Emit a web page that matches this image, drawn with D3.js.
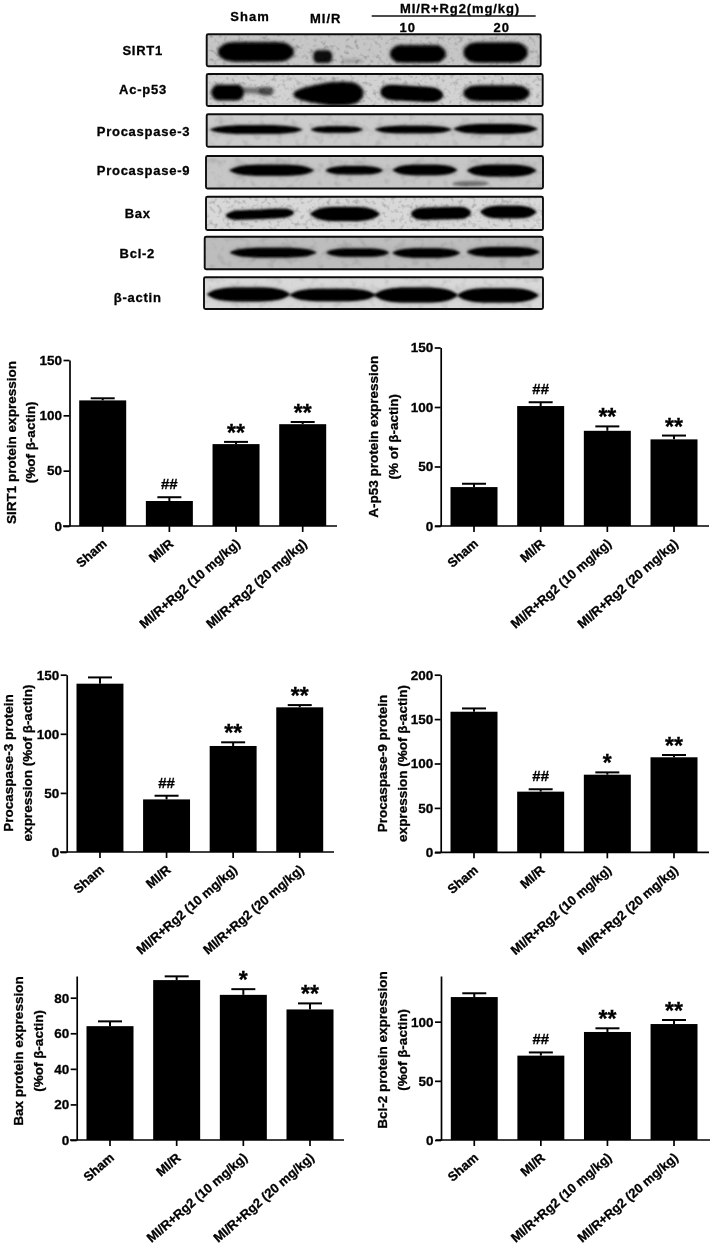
<!DOCTYPE html>
<html>
<head>
<meta charset="utf-8">
<script src="https://cdn.jsdelivr.net/npm/d3@7/dist/d3.min.js"></script>
<style>
  html, body { margin: 0; padding: 0; background: #fff; }
  text { font-family: "Liberation Sans", Arial, sans-serif; font-weight: bold; fill: #050505; stroke: #050505; stroke-width: 0.3px; }
</style>
</head>
<body>
<svg id="chart" width="711" height="1254"></svg>
<script>
// values
var categories = ["Sham", "MI/R", "MI/R+Rg2 (10 mg/kg)", "MI/R+Rg2 (20 mg/kg)"];

var sirt1Values = [113.5, 22.6, 74, 92];
var sirt1Errors = [1.9, 3.4, 2, 2];
var sirt1Marks = ["", "##", "**", "**"];

var acp53Values = [32.7, 100.8, 80, 72.8];
var acp53Errors = [2.8, 3.2, 3.7, 3.2];
var acp53Marks = ["", "##", "**", "**"];

var casp3Values = [142.4, 44.5, 89.7, 122.4];
var casp3Errors = [5.3, 3.1, 3.1, 1.9];
var casp3Marks = ["", "##", "**", "**"];

var casp9Values = [158.3, 68.3, 87.4, 107];
var casp9Errors = [3.7, 2.7, 2.6, 2.6];
var casp9Marks = ["", "##", "*", "**"];

var baxValues = [64, 89.9, 81.6, 73.4];
var baxErrors = [2.7, 2.1, 3.2, 3.4];
var baxMarks = ["", "", "*", "**"];

var bcl2Values = [120.8, 71.3, 91.3, 98];
var bcl2Errors = [3.2, 2.7, 3.1, 3.4];
var bcl2Marks = ["", "##", "**", "**"];

var ticks150 = [0, 50, 100, 150];
var ticks200 = [0, 50, 100, 150, 200];
var ticksBax = [0, 20, 40, 60, 80];
var ticksBcl2 = [0, 50, 100];

// blot header and row names
var blotRows = ["SIRT1", "Ac-p53", "Procaspase-3", "Procaspase-9", "Bax", "Bcl-2", "β-actin"];

// bands per blot, in percent of the blot frame: from, to, centre at from, centre at to, thickness, darkness, shape
var sirt1Bands = [
  [3.5, 26, 55, 55, 60, 1, "block"],
  [32, 37.5, 70, 70, 38, .95, "block"],
  [40, 47, 84, 84, 12, .18, "lens"],
  [55, 71.5, 61, 61, 54, 1, "block"],
  [77, 96, 57, 57, 62, 1, "block"]
];
var acp53Bands = [
  [1.5, 11, 58, 58, 48, 1, "block"],
  [10, 17, 50, 54, 18, .4, "lens"],
  [15.5, 20, 54, 54, 26, .55, "lens"],
  [26, 46.5, 64, 60, 72, 1, "wedge"],
  [52, 70, 52, 66, 40, 1, "block"],
  [52, 70, 60, 66, 40, 1, "block"],
  [76.5, 96, 60, 60, 48, 1, "block"]
];
var casp3Bands = [
  [1, 28.5, 47, 47, 26, 1, "lens"],
  [31, 46.5, 47, 47, 20, 1, "lens"],
  [50, 73, 47, 47, 23, 1, "lens"],
  [73.5, 98.5, 45, 45, 30, 1, "lens"]
];
var casp9Bands = [
  [7, 32, 44, 44, 34, 1, "lens"],
  [35.5, 52.5, 44, 44, 26, 1, "lens"],
  [55.5, 74.5, 43, 43, 32, 1, "lens"],
  [77.5, 98, 45, 45, 36, 1, "lens"],
  [73, 84, 85, 85, 14, .38, "lens"]
];
var baxBands = [
  [6, 26, 57, 48, 28, 1, "block"],
  [31, 51.5, 52, 52, 42, 1, "lens"],
  [61, 78.5, 52, 48, 36, 1, "block"],
  [81.5, 98, 46, 46, 38, 1, "lens"]
];
var bcl2Bands = [
  [7.5, 33, 49, 49, 30, 1, "lens"],
  [36, 54.5, 49, 49, 26, 1, "lens"],
  [55.5, 75.5, 50, 50, 29, 1, "lens"],
  [77.5, 99, 47, 47, 30, 1, "lens"]
];
var actinBands = [
  [1, 25.3, 54, 54, 44, 1, "lens"],
  [25.3, 50.7, 56, 56, 39, 1, "lens"],
  [50.3, 74.8, 56, 56, 47, 1, "lens"],
  [74.8, 98.6, 57, 57, 45, 1, "lens"]
];

// band outlines, thickness along the band
var bandShapes = {
  block: [.3, .85, .98, 1, 1, 1, 1, 1, 1, .98, .85, .3],
  lens: [.08, .62, .85, .96, 1, 1, 1, 1, .96, .85, .62, .08],
  wedge: [.2, .45, .6, .72, .82, .92, 1, 1, 1, .95, .8, .3]
};

var svg = d3.select("#chart");
var page = svg.append("g").attr("filter", "url(#soft)");
var defs = svg.append("defs");

defs.append("filter").attr("id", "soft")
    .attr("x", 0).attr("y", 0).attr("width", 1).attr("height", 1)
    .append("feGaussianBlur").attr("stdDeviation", 0.35);

function addBlur(id, amount) {
    defs.append("filter").attr("id", id)
        .attr("x", "-20%").attr("y", "-80%").attr("width", "140%").attr("height", "260%")
        .append("feGaussianBlur").attr("stdDeviation", amount);
}
addBlur("bandBlur", 0.8);
addBlur("fuzzyBlur", 1.4);
addBlur("haloBlur", 2.4);

// mottled membrane background
function addGrain(id, freq, amount) {
    var f = defs.append("filter").attr("id", id)
        .attr("x", 0).attr("y", 0).attr("width", 1).attr("height", 1)
        .attr("color-interpolation-filters", "sRGB");
    f.append("feTurbulence").attr("type", "fractalNoise")
        .attr("baseFrequency", freq).attr("numOctaves", 2).attr("seed", 7).attr("result", "n");
    var k = amount, o = 1 - k / 2;
    f.append("feColorMatrix").attr("in", "n").attr("type", "matrix")
        .attr("values", [k,0,0,0,o, k,0,0,0,o, k,0,0,0,o, 0,0,0,0,1].join(" ")).attr("result", "g");
    f.append("feBlend").attr("in", "SourceGraphic").attr("in2", "g").attr("mode", "multiply").attr("result", "b");
    f.append("feComposite").attr("in", "b").attr("in2", "SourceAlpha").attr("operator", "in");
}
addGrain("grainSoft", 0.12, 0.28);
addGrain("grainHard", 0.22, 0.55);

///////////////////////////////////////////////////////////////////////////////
// blots
var blotFrames = [
  {x: 206.7, y: 34.3, w: 334, h: 32, bg: "#c6c6c6", grain: "grainHard", blur: "fuzzyBlur", bands: sirt1Bands, lx: 142.7, ly: 50},
  {x: 206.7, y: 74, w: 336, h: 32, bg: "#d2d2d2", grain: "grainHard", blur: "fuzzyBlur", bands: acp53Bands, lx: 143, ly: 89.5},
  {x: 206.7, y: 114.3, w: 336, h: 32.5, bg: "#cbcbcb", grain: "grainSoft", blur: "bandBlur", bands: casp3Bands, lx: 143.5, ly: 131},
  {x: 206, y: 156, w: 337, h: 32.5, bg: "#c6c6c6", grain: "grainSoft", blur: "bandBlur", bands: casp9Bands, lx: 143.5, ly: 170},
  {x: 206, y: 196.7, w: 337, h: 33.3, bg: "#d8d8d8", grain: "grainHard", blur: "bandBlur", bands: baxBands, lx: 137.7, ly: 213},
  {x: 204.7, y: 236.7, w: 338.3, h: 32.5, bg: "#bdbdbd", grain: "grainSoft", blur: "bandBlur", bands: bcl2Bands, lx: 137.3, ly: 253},
  {x: 204, y: 277.3, w: 339, h: 31.7, bg: "#d8d8d8", grain: "grainSoft", blur: "bandBlur", bands: actinBands, lx: 137.7, ly: 297.5}
];

function drawBlot(frame, i) {
    var g = page.append("g");
    var bx = d3.scaleLinear().domain([0, 100]).range([frame.x, frame.x + frame.w]);
    var by = d3.scaleLinear().domain([0, 100]).range([frame.y, frame.y + frame.h]);
    var clipId = "blotClip" + i;

    defs.append("clipPath").attr("id", clipId).append("rect")
        .attr("x", frame.x).attr("y", frame.y).attr("width", frame.w).attr("height", frame.h);

    g.append("rect")
        .attr("x", frame.x).attr("y", frame.y).attr("width", frame.w).attr("height", frame.h)
        .attr("fill", frame.bg).attr("filter", "url(#" + frame.grain + ")");

    var inner = g.append("g").attr("clip-path", "url(#" + clipId + ")");

    frame.bands.forEach(function (b) {
        var shape = bandShapes[b[6]];
        var along = d3.scaleLinear().domain([0, shape.length - 1]);
        var pos = along.copy().range([b[0], b[1]]);
        var mid = along.copy().range([b[2], b[3]]);
        var area = d3.area()
            .x(function (d, k) { return bx(pos(k)); })
            .y0(function (d, k) { return by(mid(k) - b[4] * d / 2); })
            .y1(function (d, k) { return by(mid(k) + b[4] * d / 2); })
            .curve(d3.curveCatmullRom);

        inner.append("path").attr("d", area(shape))
            .attr("fill", "#000").attr("opacity", 0.3 * b[5]).attr("filter", "url(#haloBlur)");
        inner.append("path").attr("d", area(shape))
            .attr("fill", "#000").attr("opacity", b[5]).attr("filter", "url(#" + frame.blur + ")");
    });

    g.append("rect")
        .attr("x", frame.x).attr("y", frame.y).attr("width", frame.w).attr("height", frame.h)
        .attr("rx", 1.5)
        .attr("fill", "none").attr("stroke", "#0c0c0c").attr("stroke-width", 1.9);

    page.append("text")
        .attr("x", frame.lx).attr("y", frame.ly)
        .attr("dy", "0.36em")
        .attr("text-anchor", "middle")
        .attr("font-size", 13)
        .attr("letter-spacing", 0.75)
        .text(blotRows[i]);
}
blotFrames.forEach(drawBlot);

// blot header
function headText(x, y, s, size, spacing) {
    page.append("text").attr("x", x).attr("y", y).attr("dy", "0.36em")
        .attr("text-anchor", "middle").attr("font-size", size).attr("letter-spacing", spacing).text(s);
}
headText(250, 16, "Sham", 13, 1);
headText(325.7, 18, "MI/R", 13, 1);
headText(460, 8, "MI/R+Rg2(mg/kg)", 13, 0.9);
headText(407.7, 27, "10", 13, 1);
headText(501.7, 27, "20", 13, 1);
page.append("line").attr("x1", 371.7).attr("x2", 535.7).attr("y1", 16).attr("y2", 16)
    .attr("stroke", "#111").attr("stroke-width", 1.4);

///////////////////////////////////////////////////////////////////////////////
// bar panels
var panels = [
  {values: sirt1Values, errors: sirt1Errors, marks: sirt1Marks, ticks: ticks150, max: 150,
   title: ["SIRT1 protein expression", "(%of β-actin)"],
   axisX: 69.5, y0: 526, yTop: 360, c0: 102.7, c3: 302.7, x0: 63, x1: 337,
   t1: 11, t2: 30, tc: 442.5},
  {values: acp53Values, errors: acp53Errors, marks: acp53Marks, ticks: ticks150, max: 150,
   title: ["A-p53 protein expression", "(% of β-actin)"],
   axisX: 440.7, y0: 526, yTop: 347.5, c0: 474, c3: 674, x0: 435, x1: 709,
   t1: 373, t2: 393, tc: 436.7},
  {values: casp3Values, errors: casp3Errors, marks: casp3Marks, ticks: ticks150, max: 150,
   title: ["Procaspase-3 protein", "expression (%of β-actin)"],
   axisX: 66.7, y0: 852, yTop: 674.7, c0: 100, c3: 299.7, x0: 60, x1: 334,
   t1: 8, t2: 27, tc: 763},
  {values: casp9Values, errors: casp9Errors, marks: casp9Marks, ticks: ticks200, max: 200,
   title: ["Procaspase-9 protein", "expression (%of β-actin)"],
   axisX: 440.7, y0: 852.3, yTop: 674.7, c0: 474, c3: 674, x0: 435, x1: 709,
   t1: 382, t2: 402, tc: 763.5},
  {values: baxValues, errors: baxErrors, marks: baxMarks, ticks: ticksBax, max: 92.2,
   title: ["Bax protein expression", "(%of β-actin)"],
   axisX: 76.7, y0: 1140, yTop: 976, c0: 110, c3: 310, x0: 70, x1: 344,
   t1: 18, t2: 38, tc: 1051},
  {values: bcl2Values, errors: bcl2Errors, marks: bcl2Marks, ticks: ticksBcl2, max: 138.6,
   title: ["Bcl-2 protein expression", "(%of β-actin)"],
   axisX: 441, y0: 1140, yTop: 976, c0: 474.3, c3: 674, x0: 436, x1: 710,
   t1: 382, t2: 402, tc: 1050}
];

var barWidth = 47;

function drawPanel(p) {
    var g = page.append("g");

    var x = d3.scaleBand()
        .domain(categories)
        .range([p.c0 - barWidth / 2, p.c3 + barWidth / 2])
        .paddingInner(0.295)
        .paddingOuter(0);

    var y = d3.scaleLinear().domain([0, p.max]).range([p.y0, p.yTop]);

    var rows = categories.map(function (c, i) {
        return {name: c, value: p.values[i], err: p.errors[i], mark: p.marks[i]};
    });

    // error bars first, bars sit on top of the stem
    g.selectAll(".stem").data(rows).enter().append("line")
        .attr("x1", function (d) { return x(d.name) + x.bandwidth() / 2; })
        .attr("x2", function (d) { return x(d.name) + x.bandwidth() / 2; })
        .attr("y1", function (d) { return y(d.value); })
        .attr("y2", function (d) { return y(d.value + d.err); })
        .attr("stroke", "#000").attr("stroke-width", 2);

    g.selectAll(".cap").data(rows).enter().append("line")
        .attr("x1", function (d) { return x(d.name) + x.bandwidth() / 2 - 12; })
        .attr("x2", function (d) { return x(d.name) + x.bandwidth() / 2 + 12; })
        .attr("y1", function (d) { return y(d.value + d.err); })
        .attr("y2", function (d) { return y(d.value + d.err); })
        .attr("stroke", "#000").attr("stroke-width", 2);

    g.selectAll(".bar").data(rows).enter().append("rect")
        .attr("x", function (d) { return x(d.name); })
        .attr("width", x.bandwidth())
        .attr("y", function (d) { return y(d.value); })
        .attr("height", function (d) { return p.y0 - y(d.value); })
        .attr("fill", "#000");

    // significance marks
    g.selectAll(".mark").data(rows.filter(function (d) { return d.mark; })).enter().append("text")
        .attr("x", function (d) { return x(d.name) + x.bandwidth() / 2; })
        .attr("y", function (d) {
            return y(d.value + d.err) - (d.mark === "##" ? 8 : 1);
        })
        .attr("text-anchor", "middle")
        .attr("font-size", function (d) { return d.mark === "##" ? 15 : 23; })
        .text(function (d) { return d.mark; });

    // axes
    var yAxis = d3.axisLeft(y).tickValues(p.ticks).tickSize(6).tickSizeOuter(0).tickPadding(1.5);
    var gy = g.append("g").attr("transform", "translate(" + p.axisX + ",0)").call(yAxis);
    gy.selectAll("text").attr("font-size", 13.5);
    gy.attr("font-family", null).attr("font-size", null);
    gy.selectAll("line, path").attr("stroke", "#000").attr("stroke-width", 1.7);

    var xAxis = d3.axisBottom(x).tickSize(6).tickSizeOuter(0);
    var gx = g.append("g").attr("transform", "translate(0," + p.y0 + ")").call(xAxis);
    gx.attr("font-family", null).attr("font-size", null);
    gx.select(".domain").remove();
    gx.selectAll("line").attr("stroke", "#000").attr("stroke-width", 1.7);
    gx.selectAll("text")
        .attr("font-size", 13)
        .attr("text-anchor", "end")
        .attr("dy", 0).attr("x", 0).attr("y", 0)
        .attr("transform", "translate(5,19) rotate(-41)");

    g.append("line")
        .attr("x1", p.x0).attr("x2", p.x1).attr("y1", p.y0).attr("y2", p.y0)
        .attr("stroke", "#000").attr("stroke-width", 1.7);

    // two line y title
    [p.t1, p.t2].forEach(function (tx, i) {
        g.append("text")
            .attr("transform", "translate(" + tx + "," + p.tc + ") rotate(-90)")
            .attr("text-anchor", "middle")
            .attr("dy", "0.36em")
            .attr("font-size", 13.5)
            .text(p.title[i]);
    });
}
panels.forEach(drawPanel);
</script>
</body>
</html>
